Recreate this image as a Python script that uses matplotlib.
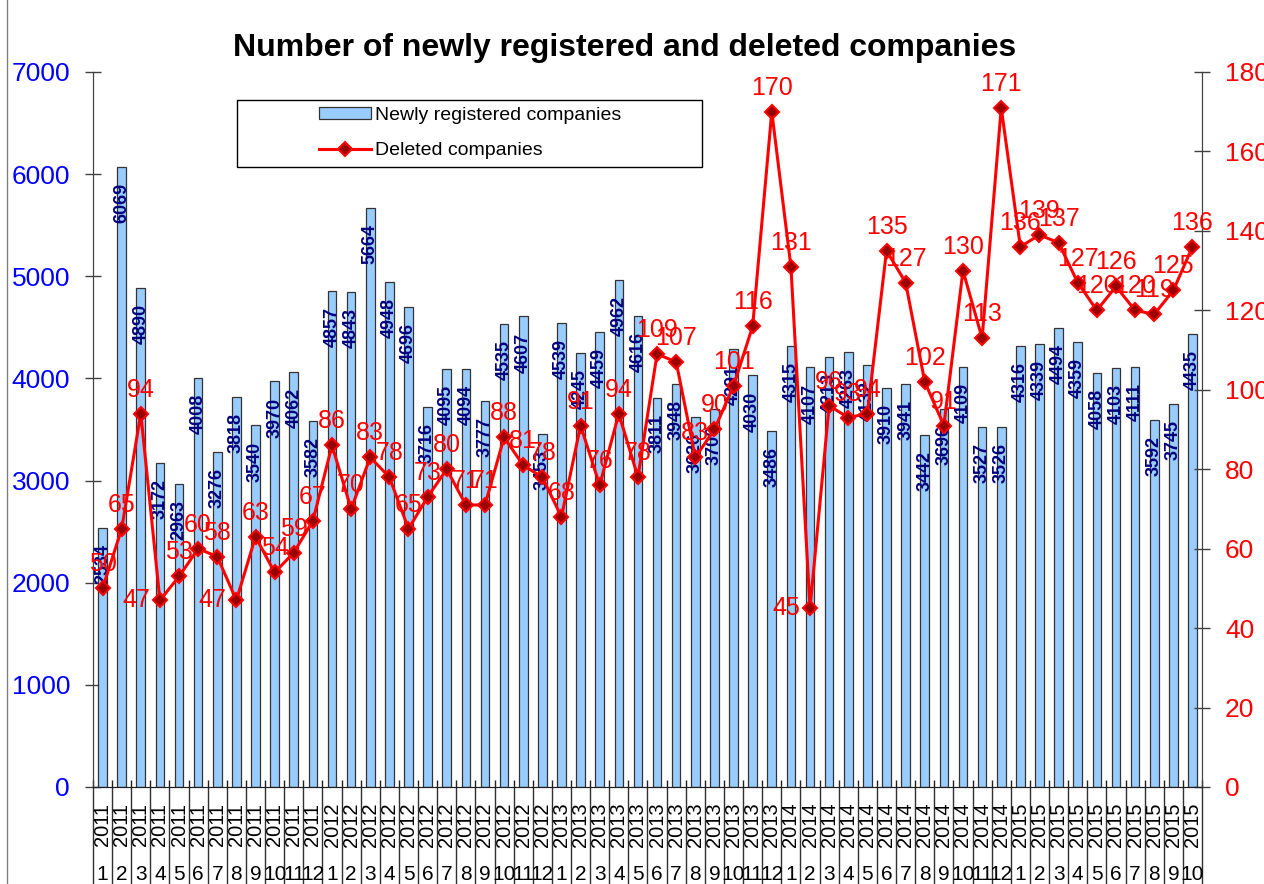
import matplotlib
matplotlib.use("Agg")
import matplotlib.pyplot as plt
from matplotlib.patches import Patch, Rectangle
from matplotlib.lines import Line2D

plt.rcParams['font.family'] = ['Liberation Sans', 'DejaVu Sans']

# データ：2011年1月～2015年10月
years = [2011] * 12 + [2012] * 12 + [2013] * 12 + [2014] * 12 + [2015] * 10
months = list(range(1, 13)) * 4 + list(range(1, 11))

new_companies = [2534, 6069, 4890, 3172, 2963, 4008, 3276, 3818, 3540, 3970, 4062, 3582,
                 4857, 4843, 5664, 4948, 4696, 3716, 4095, 4094, 3777, 4535, 4607, 3453,
                 4539, 4245, 4459, 4962, 4616, 3811, 3948, 3626, 3700, 4291, 4030, 3486,
                 4315, 4107, 4213, 4263, 4132, 3910, 3941, 3442, 3696, 4109, 3527, 3526,
                 4316, 4339, 4494, 4359, 4058, 4103, 4111, 3592, 3745, 4435]

deleted_companies = [50, 65, 94, 47, 53, 60, 58, 47, 63, 54, 59, 67,
                     86, 70, 83, 78, 65, 73, 80, 71, 71, 88, 81, 78,
                     68, 91, 76, 94, 78, 109, 107, 83, 90, 101, 116, 170,
                     131, 45, 96, 93, 94, 135, 127, 102, 91, 130, 113, 171,
                     136, 139, 137, 127, 120, 126, 120, 119, 125, 136]

title = "Number of newly registered and deleted companies"

W, H = 1264, 884
fig = plt.figure(figsize=(W / 100, H / 100), dpi=100)
ax = fig.add_axes([93 / W, 1 - 787 / H, (1202 - 93) / W, (787 - 72) / H])
ax2 = ax.twinx()

x = list(range(len(new_companies)))

# 棒グラフ（新規登録）
ax.bar(x, new_companies, width=0.45, color='#99CCFF', edgecolor='#333333', linewidth=0.9, zorder=2)
for xi, v in zip(x, new_companies):
    ax.annotate(str(v), xy=(xi, v), xytext=(0, -16), textcoords='offset pixels',
                rotation=90, ha='center', va='top', color='#000080',
                fontsize=13, fontweight='bold', zorder=3)

ax.set_xlim(-0.5, len(x) - 0.5)
ax.set_ylim(0, 7000)
ax.set_yticks(range(0, 7001, 1000))
ax.tick_params(axis='y', direction='inout', length=11, width=1, colors='#404040',
               labelcolor='#0000FF', labelsize=19, pad=11)
ax.set_xticks([i - 0.5 for i in range(len(x) + 1)])
ax.set_xticklabels([])
ax.tick_params(axis='x', direction='in', length=5, width=1, colors='#202020')

# 折れ線（抹消）
ax2.plot(x, deleted_companies, color='red', linewidth=2.2, marker='D', markersize=7,
         markerfacecolor='#990000', markeredgecolor='red', markeredgewidth=1.5, zorder=4)
for xi, v in zip(x, deleted_companies):
    if v < 50:
        ax2.annotate(str(v), xy=(xi, v), xytext=(-10, 0), textcoords='offset pixels',
                     ha='right', va='center', color='red', fontsize=18)
    else:
        ax2.annotate(str(v), xy=(xi, v), xytext=(0, 12), textcoords='offset pixels',
                     ha='center', va='bottom', color='red', fontsize=18)
ax2.set_ylim(0, 180)
ax2.set_yticks(range(0, 181, 20))
ax2.tick_params(axis='y', direction='inout', length=11, width=1, colors='#404040',
                labelcolor='red', labelsize=19, pad=11)

for a in (ax, ax2):
    a.spines['top'].set_visible(False)
    a.spines['left'].set_color('#404040')
    a.spines['right'].set_color('#404040')
    a.spines['bottom'].set_color('#202020')

# 軸ラベル（年・月）と区切り線
trans = ax.get_xaxis_transform()
bottom = -(H - 787) / (787 - 72)
ax.vlines([i - 0.5 for i in range(len(x) + 1)], bottom, 0, transform=trans,
          colors='#303030', linewidth=1, clip_on=False)
for xi, yr, mo in zip(x, years, months):
    ax.annotate(str(yr), xy=(xi, 0), xycoords=trans, xytext=(0, -38),
                textcoords='offset pixels', rotation=90, ha='center', va='center',
                fontsize=14.5, annotation_clip=False)
    ax.annotate(str(mo), xy=(xi, 0), xycoords=trans, xytext=(0, -87),
                textcoords='offset pixels', ha='center', va='center',
                fontsize=15, annotation_clip=False)

fig.text(625 / W, 1 - 48 / H, title, ha='center', va='center', fontsize=23, fontweight='bold')

# 凡例
handles = [Patch(facecolor='#99CCFF', edgecolor='#333333', linewidth=0.9),
           Line2D([], [], color='red', linewidth=2.2, marker='D', markersize=7,
                  markerfacecolor='#990000', markeredgecolor='red', markeredgewidth=1.5)]
leg = fig.legend(handles, ["Newly registered companies", "Deleted companies"],
                 loc='center', bbox_to_anchor=(470 / W, 1 - 133 / H),
                 fontsize=14, frameon=False, handlelength=2.7, handleheight=0.6,
                 handletextpad=0.2, labelspacing=0.95, borderpad=0, borderaxespad=0)
fig.add_artist(Rectangle((237 / W, 1 - 167 / H), (702 - 237) / W, 67 / H,
                         transform=fig.transFigure, facecolor='white',
                         edgecolor='black', linewidth=1, zorder=leg.get_zorder() - 0.1))

# グラフ枠の左端
fig.add_artist(Line2D([7 / W, 7 / W], [0, 1], color='#808080', linewidth=1))

fig.savefig("out.png", dpi=100)
